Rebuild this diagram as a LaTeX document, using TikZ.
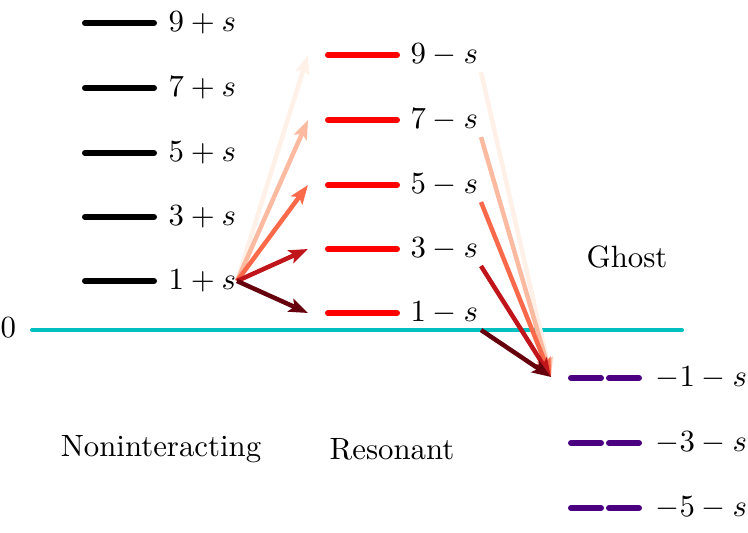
\documentclass[tikz,border=0pt]{standalone}
\usetikzlibrary{arrows.meta}
\definecolor{cza}{HTML}{67000D}
\definecolor{czb}{HTML}{C0151B}
\definecolor{czc}{HTML}{FA6A4A}
\definecolor{czd}{HTML}{FCBBA1}
\definecolor{cze}{HTML}{FFF0E8}
\definecolor{zeroc}{HTML}{00BFBF}
\definecolor{ghostc}{HTML}{4B0082}
\definecolor{resc}{HTML}{FF0000}
\tikzset{
  lvl/.style={line width=6*0.3247pt, line cap=round},
  lbl/.style={anchor=west, inner sep=0pt},
  arr/.style={line width=4.5*0.3247pt, -{Stealth[length=19*0.3247pt, width=14*0.3247pt, inset=4*0.3247pt]}},
}
\begin{document}
\begin{tikzpicture}[x=0.3247pt, y=-0.3247pt]
\useasboundingbox (0,0) rectangle (748,532);
% zero line
\draw[line width=4*0.3247pt, line cap=round, zeroc] (32,330) -- (682,330);
\node[lbl] (zero) at (0,328) {$0$};
% noninteracting
\foreach \v/\y in {9/23,7/88,5/153,3/217,1/281}{
  \draw[lvl, black] (85,\y) -- (154,\y);
  \node[lbl] (n\v) at (168,\y) {$\v+s$};
}
% resonant
\foreach \v/\y in {9/55,7/120,5/185,3/249,1/313}{
  \draw[lvl, resc] (328,\y) -- (397,\y);
  \node[lbl] (r\v) at (410,\y) {$\v-s$};
  \coordinate (t\v) at (308,\y);
  \coordinate (s\v) at (481,\y+17);
}
% ghost
\foreach \v/\y in {1/378,3/443,5/508}{
  \draw[lvl, ghostc] (571,\y) -- (601,\y);
  \draw[lvl, ghostc] (609,\y) -- (639,\y);
  \node[lbl] (g\v) at (655,\y) {$-\v-s$};
}
\coordinate (gtip) at (551,377);
\coordinate (src) at (237,281);
% arrows
\draw[arr, cze] (src) -- (t9);
\draw[arr, czd] (src) -- (t7);
\draw[arr, czc] (src) -- (t5);
\draw[arr, czb] (src) -- (t3);
\draw[arr, cza] (src) -- (t1);
\draw[arr, cze] (s9) -- (gtip);
\draw[arr, czd] (s7) -- (gtip);
\draw[arr, czc] (s5) -- (gtip);
\draw[arr, czb] (s3) -- (gtip);
\draw[arr, cza] (s1) -- (gtip);
% titles
\node (tnon) at (161,449) {Noninteracting};
\node (tres) at (392,449) {Resonant};
\node (tgho) at (627,257) {Ghost};
\end{tikzpicture}
\end{document}
